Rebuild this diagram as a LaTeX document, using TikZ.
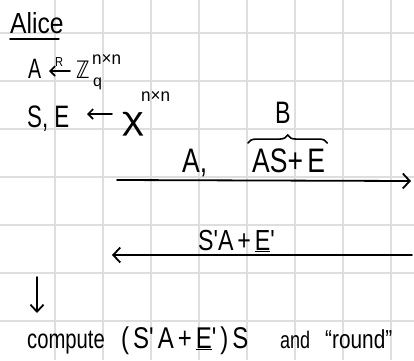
\documentclass[tikz,border=0pt]{standalone}
\usepackage{fontspec}
\usepackage{graphicx}
\setmainfont{Liberation Sans}
\newfontfamily\dv{DejaVu Sans}
\usetikzlibrary{arrows.meta,decorations.pathreplacing}
\newcommand{\hw}[2][0.8]{\scalebox{#1}[1]{#2}}
\begin{document}
\begin{tikzpicture}[x=1pt,y=-1pt,
  gridline/.style={draw=black!13, line width=1.5pt},
  txt/.style={inner sep=0pt, anchor=base west, font=\fontsize{#1}{#1}\selectfont},
  txt/.default=26,
  pen/.style={line width=1.8pt, line cap=round},
  tip/.style={-{Straight Barb[length=7pt,width=15pt,line width=1.8pt]}},
  smalltip/.style={-{Straight Barb[length=5pt,width=10pt,line width=1.6pt]}}
]
\fill[white] (0,0) rectangle (414,360);
\useasboundingbox (0,0) rectangle (414,360);
% grid
\foreach \x in {55,103,...,391} \draw[gridline] (\x,0) -- (\x,360);
\foreach \y in {33,81,...,321} \draw[gridline] (0,\y) -- (414,\y);

% Alice
\node[txt=29] (alice) at (10,33) {\hw[0.85]{Alice}};
\draw[pen] ([yshift=-6pt]alice.base west) -- ([yshift=-6pt,xshift=-5pt]alice.base east);

% A <-R- Z_q^{nxn}
\node[txt=28] (A1) at (28,78) {\hw[0.7]{A}};
\coordinate (r1s) at (70,71);
\coordinate (r1e) at (49,71);
\draw[pen, smalltip] (r1s) -- (r1e);
\node[txt=13] (R) at (55,66) {\hw[0.85]{R}};
\node[txt=24] (Zq) at (76,78) {\dv\hw[0.75]{ℤ}};
\node[txt=16] (q) at (93,86) {q};
\node[txt=18] (nn1) at (92,64) {\hw[0.95]{n×n}};

% S,E <- chi^{nxn}
\node[txt=31] (SE) at (27,127) {\hw[0.72]{S, E}};
\coordinate (r2s) at (112,114);
\coordinate (r2e) at (87,114);
\draw[pen, smalltip] (r2s) -- (r2e);
\node[txt=32] (chi) at (122,129) {\hw[1.3]{χ}};
\node[txt=18] (nn2) at (141,101) {\hw[0.95]{n×n}};

% first message
\node[txt=31] (B) at (275,123) {\hw[0.75]{B}};
\node[txt=34] (A2) at (182,172) {\hw[0.78]{A,}};
\node[txt=34] (ASE) at (252,172) {\hw[0.78]{AS+\,E}};
\draw[pen, line width=1.6pt, decorate, decoration={brace, amplitude=8pt}]
  ([xshift=-4pt,yshift=5pt]ASE.north west) -- ([xshift=2pt,yshift=5pt]ASE.north east);
\coordinate (m1s) at (117,180);
\coordinate (m1e) at (411,181);
\draw[pen, tip] (m1s) -- (m1e);

% second message
\node[txt=29] (SAE) at (198,250) {\hw[0.8]{S\textquotesingle A\,+\,\underline{E}\textquotesingle}};
\coordinate (m2s) at (412,255);
\coordinate (m2e) at (112,255);
\draw[pen, tip] (m2s) -- (m2e);

% down arrow
\coordinate (d1) at (37,277);
\coordinate (d2) at (37,313);
\draw[pen, -{Straight Barb[length=7pt,width=13pt,line width=1.8pt]}] (d1) -- (d2);

% compute line
\node[txt=27] (comp) at (27,348) {\hw[0.75]{compute}};
\node[txt=30] (expr) at (121,348) {\hw[0.8]{(\,S\textquotesingle\,A\,+\,\underline{E}\textquotesingle\,)\,S}};
\node[txt=24] (and) at (280,348) {\hw[0.75]{and}};
\node[txt=26] (round) at (325,348) {\hw[0.8]{“round”}};
\end{tikzpicture}
\end{document}
